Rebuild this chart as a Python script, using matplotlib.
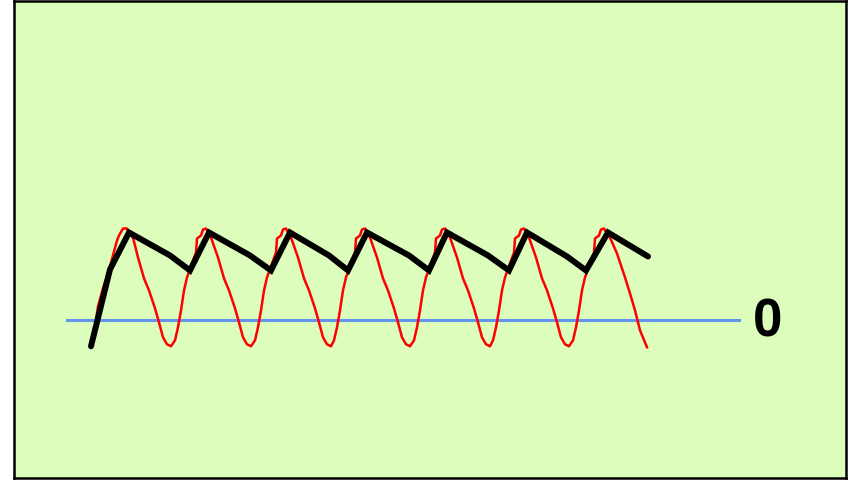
import matplotlib
matplotlib.use("Agg")
import matplotlib.pyplot as plt

# red wave (time, value)
red_t = [5, 7, 12, 19, 26, 28, 32, 36, 37, 42, 47, 53, 58, 64, 68, 72, 76, 80,
         84, 87, 90, 93, 96, 101, 105, 106, 110, 112, 115, 116, 120, 127, 133, 138, 144, 148, 152, 156, 160,
         164, 167, 170, 173, 176, 181, 185, 186, 190, 192, 195, 196, 200, 207, 213, 218, 224, 228, 232, 236, 240,
         243, 246, 249, 252, 255, 260, 264, 265, 269, 271, 274, 275, 279, 286, 292, 297, 303, 307, 311, 315, 319,
         323, 326, 329, 332, 335, 340, 344, 345, 349, 351, 354, 355, 359, 366, 372, 377, 383, 387, 391, 395, 399,
         402, 405, 408, 411, 414, 419, 423, 424, 428, 430, 433, 434, 438, 445, 451, 456, 462, 466, 470, 474, 478,
         482, 485, 488, 491, 494, 499, 503, 504, 508, 510, 513, 514, 519, 526, 534, 539, 544, 549, 556]
red_v = [0, 14, 32, 54, 80, 85, 92, 92, 89, 83, 63, 42, 30, 12, -2, -17, -24, -26,
         -20, -7, 10, 30, 43, 57, 68, 82, 85, 91, 92, 90, 83, 63, 42, 30, 12, -2, -17, -24, -26,
         -20, -7, 10, 30, 43, 57, 68, 82, 85, 91, 92, 90, 83, 63, 42, 30, 12, -2, -17, -24, -26,
         -20, -7, 10, 30, 43, 57, 68, 82, 85, 91, 92, 90, 83, 63, 42, 30, 12, -2, -17, -24, -26,
         -20, -7, 10, 30, 43, 57, 68, 82, 85, 91, 92, 90, 83, 63, 42, 30, 12, -2, -17, -24, -26,
         -20, -7, 10, 30, 43, 57, 68, 82, 85, 91, 92, 90, 83, 63, 42, 30, 12, -2, -17, -24, -26,
         -20, -7, 10, 30, 43, 57, 68, 82, 85, 91, 92, 90, 83, 67, 43, 27, 10, -10, -27]

# black sawtooth
blk_t = [0, 19, 38, 79, 99, 118, 159, 180, 199, 238, 257, 276, 318, 338,
         356, 397, 418, 436, 476, 495, 517, 557]
blk_v = [-26, 51, 88, 65, 50, 88, 65, 50, 88, 65, 50, 88, 65, 50,
         88, 65, 50, 88, 64, 50, 88, 64]

# zero line
zero_t = [-24, 648]
zero_v = [0, 0]

fig = plt.figure(figsize=(8.5, 4.81), dpi=100)
ax = fig.add_axes([14/850, 2/481, 832/850, 477/481])
ax.set_facecolor("#dcfdbb")
for s in ax.spines.values():
    s.set_linewidth(1.8)
    s.set_color("black")

ax.plot(zero_t, zero_v, color="#6495ED", linewidth=2.2, zorder=1)
ax.plot(red_t, red_v, color="#ff0000", linewidth=1.8, zorder=2)
ax.plot(blk_t, blk_v, color="black", linewidth=4.3,
        solid_capstyle="round", solid_joinstyle="miter", zorder=3)
ax.text(677, -1, "0", fontsize=38, fontweight="bold", family="Liberation Sans",
        ha="center", va="center")

ax.set_xlim(-77, 755)
ax.set_ylim(-158, 320)
ax.set_xticks([])
ax.set_yticks([])

fig.savefig("out.png", dpi=100)
